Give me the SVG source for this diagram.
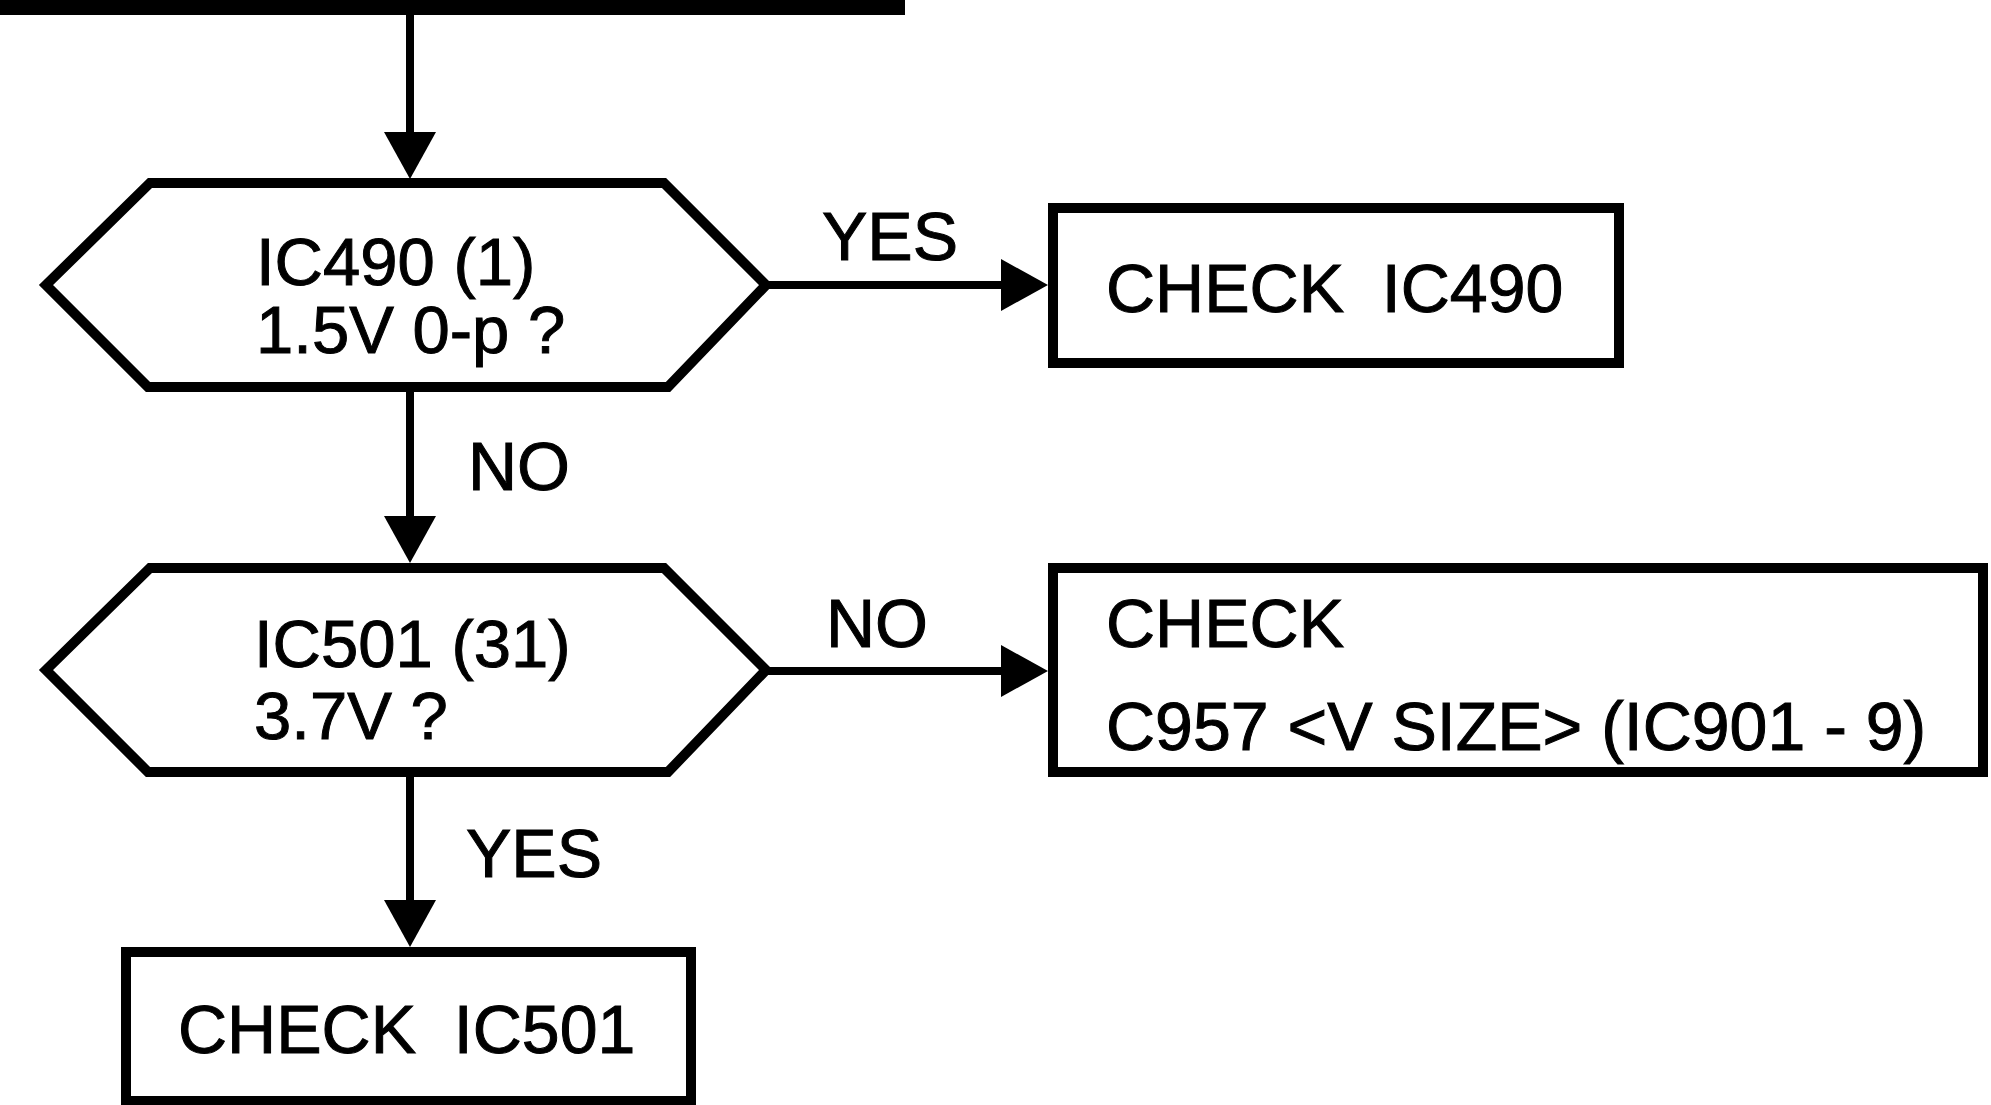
<svg xmlns="http://www.w3.org/2000/svg" width="1991" height="1105" viewBox="0 0 1991 1105">
  <style>
    .shape { fill: #fff; stroke: #000; stroke-width: 10; stroke-linejoin: miter; }
    .conn { fill: none; stroke: #000; stroke-width: 8; }
    text { font-family: "Liberation Sans", Arial, Helvetica, sans-serif; font-size: 68px; fill: #000; stroke: #000; stroke-width: 1; white-space: pre; }
    .hx { font-size: 67px; }
  </style>
  <defs>
    <marker id="arrow" markerUnits="userSpaceOnUse" viewBox="0 0 47 52" refX="0" refY="26" markerWidth="47" markerHeight="52" orient="auto">
      <path d="M0,0 L47,26 L0,52 Z" fill="#000"/>
    </marker>
  </defs>
  <rect width="1991" height="1105" fill="#fff"/>

  <g id="prev-box">
    <rect x="0" y="0" width="905" height="15" fill="#000"/>
  </g>

  <g id="connectors">
    <path class="conn" d="M410,15 L410,132" marker-end="url(#arrow)"/>
    <path class="conn" d="M766,285 L1001,285" marker-end="url(#arrow)"/>
    <path class="conn" d="M410,390 L410,516" marker-end="url(#arrow)"/>
    <path class="conn" d="M766,671 L1001,671" marker-end="url(#arrow)"/>
    <path class="conn" d="M410,775 L410,900" marker-end="url(#arrow)"/>
    <text x="822" y="260">YES</text>
    <text x="468" y="490">NO</text>
    <text x="826" y="647">NO</text>
    <text x="466" y="877">YES</text>
  </g>

  <g id="dec-ic490">
    <polygon class="shape" points="150,183 664,183 766,285 668,387 148,387 46,285"/>
    <text class="hx" x="256" y="285">IC490 (1)</text>
    <text class="hx" x="256" y="353">1.5V 0-p ?</text>
  </g>

  <g id="box-check-ic490">
    <rect class="shape" x="1053" y="208" width="566" height="155"/>
    <text x="1106" y="312" xml:space="preserve">CHECK  IC490</text>
  </g>

  <g id="dec-ic501">
    <polygon class="shape" points="150,568 664,568 766,670 668,772 148,772 46,670"/>
    <text class="hx" x="254" y="667">IC501 (31)</text>
    <text class="hx" x="254" y="739">3.7V ?</text>
  </g>

  <g id="box-check-c957">
    <rect class="shape" x="1053" y="568" width="930" height="204"/>
    <text x="1106" y="647">CHECK</text>
    <text x="1106" y="750">C957 &lt;V SIZE&gt; (IC901 - 9)</text>
  </g>

  <g id="box-check-ic501">
    <rect class="shape" x="126" y="952" width="565" height="149"/>
    <text x="178" y="1053" xml:space="preserve">CHECK  IC501</text>
  </g>
</svg>
